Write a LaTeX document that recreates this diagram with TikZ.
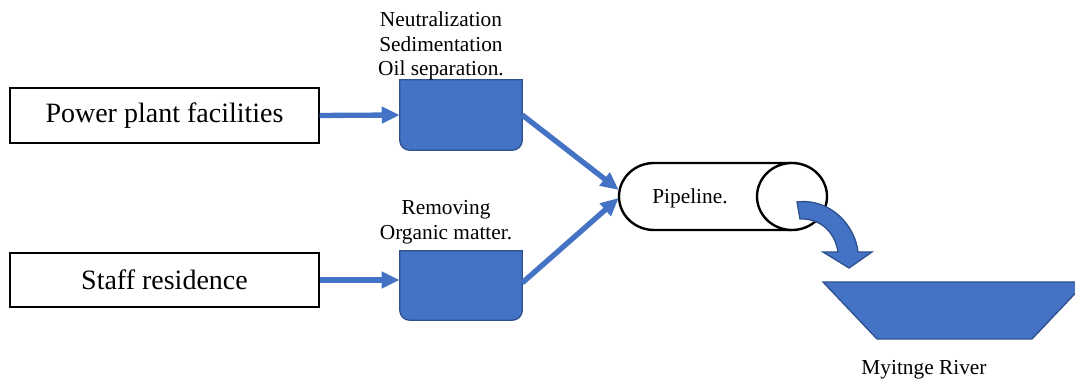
\documentclass[tikz,border=0pt]{standalone}
\usepackage{fontspec}
\setmainfont{Liberation Serif}
\usetikzlibrary{arrows.meta}
\definecolor{tankblue}{HTML}{4472C4}
\definecolor{tankedge}{HTML}{2F528F}
\begin{document}
\begin{tikzpicture}[x=0.75pt,y=0.75pt,
  srcbox/.style={draw=black,line width=0.8pt,minimum width=231.75pt,inner sep=0pt,font=\fontsize{21}{25}\selectfont},
  tankbox/.style={minimum width=91.5pt,inner sep=0pt},
  tankfill/.style={fill=tankblue,draw=tankedge,line width=1pt},
  flow/.style={draw=tankblue,line width=4pt,-{Triangle[length=13.5pt,width=12pt]}},
  lbl/.style={align=center,inner sep=0pt,font=\fontsize{16}{18.4}\selectfont},
  pipebox/.style={minimum width=156pt,minimum height=50.25pt,inner sep=0pt}]
\useasboundingbox (0,0) rectangle (1075,381);
% sources
\node[srcbox,minimum height=41.25pt] (b1) at (164.5,265.5) {Power plant facilities};
\node[srcbox,minimum height=40.5pt] (b2) at (164.5,101) {Staff residence};
% tanks
\node[tankbox,minimum height=52.5pt] (t1) at (461,266) {};
\node[tankbox,minimum height=51.75pt] (t2) at (461,95.5) {};
\foreach \t in {t1,t2}{
  \draw[tankfill] (\t.north west) -- ([yshift=7.5pt]\t.south west)
    arc[start angle=180,end angle=270,radius=7.5pt]
    -- ([xshift=-7.5pt]\t.south east)
    arc[start angle=270,end angle=360,radius=7.5pt]
    -- (\t.north east) -- cycle;
}
\node[lbl] (l1) at (441,335) {Neutralization\\Sedimentation\\Oil separation.};
\node[lbl] (l2) at (446,159) {Removing\\Organic matter.};
% pipeline
\node[pipebox] (pipe) at (723,184.5) {};
\draw[line width=1.8pt] (792,218) -- (654,218)
  arc[start angle=90,end angle=270,x radius=35,y radius=33.5] -- (792,151);
\draw[line width=1.8pt,fill=white] (792,184.5) ellipse[x radius=35,y radius=33.5];
\node[font=\fontsize{16}{18}\selectfont,inner sep=0pt] (pl) at (690,183) {Pipeline.};
% flows
\draw[flow] (b1.east) -- (t1.west);
\draw[flow] (b2.east) -- (b2.east -| t2.west);
\draw[flow] (t1.east) -- ([yshift=4.9pt]pipe.west);
\draw[flow] ([yshift=2pt]t2.east) -- ([yshift=-1.1pt]pipe.west);
% curved arrow
\draw[tankfill] (797,179) .. controls (830,183) and (855,156) .. (858,129)
  -- (872,129) -- (849,113) -- (823,129) -- (838,129)
  .. controls (835,149) and (820,163) .. (800,162) -- cycle;
% river
\draw[tankfill] (823,99) -- (1086,99) -- (1032,42) -- (877,42) -- cycle;
\node[font=\fontsize{16}{18}\selectfont,inner sep=0pt] (rv) at (924,11) {Myitnge River};
\end{tikzpicture}
\end{document}
